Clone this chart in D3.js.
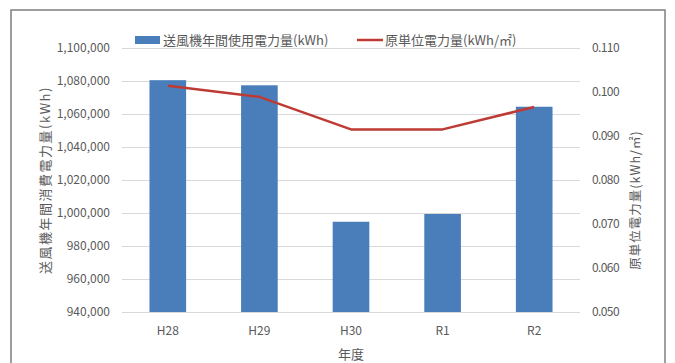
<!DOCTYPE html>
<html>
<head>
<meta charset="utf-8">
<script src="https://cdn.jsdelivr.net/npm/d3@7"></script>
<style>
  html, body { margin: 0; padding: 0; background: #fff; }
  svg { display: block; }
  text { font-family: "Noto Sans CJK JP", "Noto Sans", sans-serif; fill: #595959; }
</style>
</head>
<body>
<svg id="chart" width="675" height="363"></svg>
<script>
// Fiscal years
const years = ["H28", "H29", "H30", "R1", "R2"];
// Annual blower electricity use (kWh)
const annualKWh = [1080500, 1077400, 994700, 999400, 1064400];
// Electricity per unit (kWh/m3)
const unitKWh = [0.1014, 0.0989, 0.0915, 0.0915, 0.0966];
// Axis ticks
const leftTicks = [940000, 960000, 980000, 1000000, 1020000, 1040000, 1060000, 1080000, 1100000];
const rightTicks = [0.05, 0.06, 0.07, 0.08, 0.09, 0.10, 0.11];

const barColor = "#4a7ebb";
const lineColor = "#be3a34";

const svg = d3.select("#chart");
const plot = { left: 122, right: 580, top: 48, bottom: 312 };

// Outer frame
svg.append("rect")
  .attr("x", 11).attr("y", 10)
  .attr("width", 654).attr("height", 370)
  .attr("fill", "#fff")
  .attr("stroke", "#7f7f7f").attr("stroke-width", 1.5);

const x = d3.scaleBand().domain(years)
  .range([plot.left, plot.right])
  .paddingInner(0.6).paddingOuter(0.3);
const yL = d3.scaleLinear().domain([940000, 1100000]).range([plot.bottom, plot.top]);
const yR = d3.scaleLinear().domain([0.05, 0.11]).range([plot.bottom, plot.top]);

// Gridlines
svg.append("g")
  .attr("transform", `translate(${plot.left},0)`)
  .call(d3.axisLeft(yL).tickValues(leftTicks).tickSize(-(plot.right - plot.left)).tickFormat(""))
  .call(g => g.select(".domain").remove())
  .call(g => g.selectAll("line").attr("stroke", "#d9d9d9").attr("stroke-width", 1));

const styleLabels = g => g.selectAll("text")
  .attr("font-size", 12)
  .style("font-family", "'Noto Sans CJK JP', sans-serif")
  .attr("fill", "#595959");

// Left axis labels
svg.append("g")
  .attr("transform", `translate(${plot.left},0)`)
  .call(d3.axisLeft(yL).tickValues(leftTicks).tickSize(0).tickPadding(12).tickFormat(d3.format(",")))
  .call(g => g.select(".domain").remove())
  .call(styleLabels);

// Right axis labels
svg.append("g")
  .attr("transform", `translate(${plot.right},0)`)
  .call(d3.axisRight(yR).tickValues(rightTicks).tickSize(0).tickPadding(12).tickFormat(d3.format(".3f")))
  .call(g => g.select(".domain").remove())
  .call(styleLabels)
  .call(g => g.selectAll("text").attr("letter-spacing", -0.6));

// Category axis
svg.append("g")
  .attr("transform", `translate(0,${plot.bottom})`)
  .call(d3.axisBottom(x).tickSize(0).tickPadding(14))
  .call(g => g.select(".domain").remove())
  .call(styleLabels);

// Bars
svg.append("g").selectAll("rect")
  .data(years.map((y, i) => ({ y, v: annualKWh[i] })))
  .join("rect")
  .attr("x", d => x(d.y))
  .attr("width", x.bandwidth())
  .attr("y", d => yL(d.v))
  .attr("height", d => yL.range()[0] - yL(d.v))
  .attr("fill", barColor);

// Line
const line = d3.line()
  .x((d, i) => x(years[i]) + x.bandwidth() / 2)
  .y(d => yR(d));
svg.append("path")
  .datum(unitKWh)
  .attr("d", line)
  .attr("fill", "none")
  .attr("stroke", lineColor)
  .attr("stroke-width", 2.5)
  .attr("stroke-linejoin", "round");

// Axis titles
svg.append("text")
  .attr("transform", `translate(50,${(plot.top + plot.bottom) / 2}) rotate(-90)`)
  .attr("text-anchor", "middle")
  .attr("font-size", 13)
  .attr("letter-spacing", 1.5)
  .text("送風機年間消費電力量(kWh)");

svg.append("text")
  .attr("transform", `translate(640,200) rotate(-90)`)
  .attr("text-anchor", "middle")
  .attr("font-size", 12.5)
  .attr("letter-spacing", 1)
  .text("原単位電力量(kWh/㎡)");

svg.append("text")
  .attr("x", (plot.left + plot.right) / 2)
  .attr("y", 359)
  .attr("text-anchor", "middle")
  .attr("font-size", 13)
  .text("年度");

// Legend
const legend = svg.append("g");
legend.append("rect").attr("x", 135).attr("y", 36).attr("width", 25).attr("height", 8).attr("fill", barColor);
legend.append("text").attr("x", 163).attr("y", 45).attr("font-size", 13).text("送風機年間使用電力量(kWh)");
legend.append("line").attr("x1", 357).attr("x2", 383).attr("y1", 40).attr("y2", 40)
  .attr("stroke", lineColor).attr("stroke-width", 2.5);
legend.append("text").attr("x", 385).attr("y", 45).attr("font-size", 13).text("原単位電力量(kWh/㎡)");
</script>
</body>
</html>
